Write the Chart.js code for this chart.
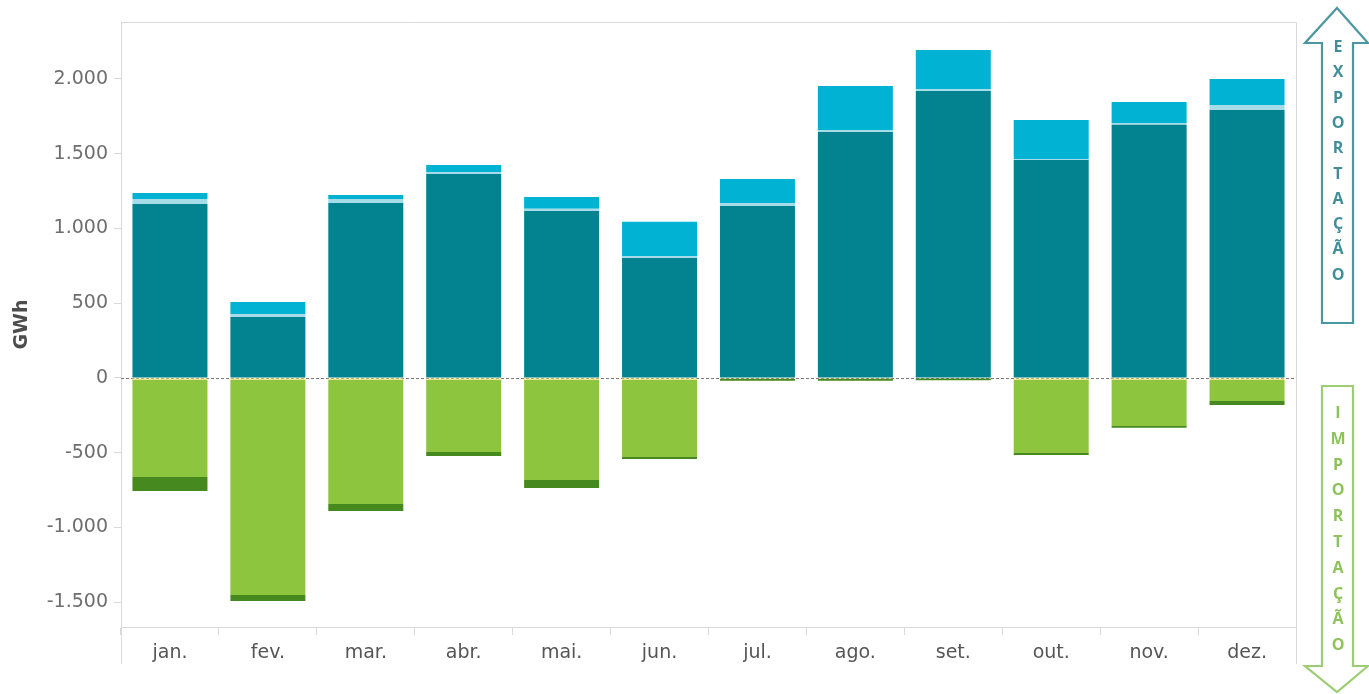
<!DOCTYPE html>
<html>
<head>
<meta charset="utf-8">
<script src="https://cdn.jsdelivr.net/npm/chart.js@4/dist/chart.umd.min.js"></script>
<style>
  html, body { margin: 0; padding: 0; background: #fff; }
  #wrap { position: relative; width: 1369px; height: 694px; }
  #wrap canvas { position: absolute; left: 0; top: 0; }
  #arrows { position: absolute; left: 0; top: 0; pointer-events: none; }
</style>
</head>
<body>
<div id="wrap">
  <canvas id="chart" width="1369" height="694"></canvas>
  <svg id="arrows" width="1369" height="694" xmlns="http://www.w3.org/2000/svg">
    <polygon points="1337,8 1368,43 1353,43 1353,323 1322,323 1322,43 1305,43"
             fill="#fff" stroke="#4a97a2" stroke-width="2.2" stroke-linejoin="miter"/>
    <polygon points="1322,386 1353,386 1353,666 1368,666 1337,692 1305,666 1322,666"
             fill="#fff" stroke="#9ccd72" stroke-width="2.2" stroke-linejoin="miter"/>
    <g id="expLetters" font-family="'Open Sans', sans-serif" font-weight="700" font-size="16" fill="#3f8e99" text-anchor="middle"></g>
    <g id="impLetters" font-family="'Open Sans', sans-serif" font-weight="700" font-size="16" fill="#8cc35a" text-anchor="middle"></g>
  </svg>
</div>
<script>
// Monthly balance, GWh: exports stack upward, imports stack downward
const months = ['jan.', 'fev.', 'mar.', 'abr.', 'mai.', 'jun.', 'jul.', 'ago.', 'set.', 'out.', 'nov.', 'dez.'];

const exportMain  = [1164, 408, 1171, 1365, 1117, 803, 1151, 1646, 1920, 1458, 1693, 1793];
const exportMid   = [33, 20, 26, 13, 14, 13, 20, 13, 13, 7, 13, 33];
const exportTop   = [40, 80, 27, 47, 80, 228, 160, 294, 261, 261, 140, 174];

const importThin  = [-12, -12, -12, -12, -12, -12, -6, -6, -3, -12, -12, -12];
const importMain  = [-650, -1440, -831, -483, -670, -516, 0, 0, 0, -490, -309, -142];
const importBase  = [-94, -40, -47, -27, -54, -14, -13, -13, -13, -13, -13, -27];

const yTicks = [-1500, -1000, -500, 0, 500, 1000, 1500, 2000];

const exportWord = ['E', 'X', 'P', 'O', 'R', 'T', 'A', 'Ç', 'Ã', 'O'];
const importWord = ['I', 'M', 'P', 'O', 'R', 'T', 'A', 'Ç', 'Ã', 'O'];

// Vertical lettering inside the two arrows
function placeLetters(groupId, letters, firstY, step) {
  const g = document.getElementById(groupId);
  letters.forEach((ch, i) => {
    const t = document.createElementNS('http://www.w3.org/2000/svg', 'text');
    t.setAttribute('x', 1338);
    t.setAttribute('y', firstY + i * step);
    t.setAttribute('dominant-baseline', 'central');
    t.textContent = ch;
    g.appendChild(t);
  });
}
placeLetters('expLetters', exportWord, 46, 25.3);
placeLetters('impLetters', importWord, 412, 25.8);

function fmt(v) {
  const s = String(Math.abs(v)).replace(/\B(?=(\d{3})+(?!\d))/g, '.');
  return (v < 0 ? '-' : '') + s;
}

const FONT = "'DejaVu Sans', sans-serif";
const GRID = '#d9d9d9';

// Frame around the plot, zero line, and the long separators below the x axis
const framePlugin = {
  id: 'frame',
  beforeDatasetsDraw(chart) {
    const { ctx, chartArea: a, scales: { y } } = chart;
    const y0 = Math.round(y.getPixelForValue(0)) + 0.5;
    ctx.save();
    ctx.strokeStyle = '#7a7a7a';
    ctx.lineWidth = 1.2;
    ctx.setLineDash([3, 2]);
    ctx.beginPath();
    ctx.moveTo(a.left, y0);
    ctx.lineTo(a.right, y0);
    ctx.stroke();
    ctx.restore();
  },
  afterDraw(chart) {
    const { ctx, chartArea: a } = chart;
    ctx.save();
    ctx.strokeStyle = GRID;
    ctx.lineWidth = 1;
    ctx.beginPath();
    ctx.moveTo(a.left + 0.5, a.top + 0.5);
    ctx.lineTo(a.right + 0.5, a.top + 0.5);
    ctx.lineTo(a.right + 0.5, 664);
    ctx.moveTo(a.left + 0.5, a.bottom);
    ctx.lineTo(a.left + 0.5, 664);
    ctx.stroke();
    ctx.restore();
  }
};

function bar(label, data, color) {
  return {
    label, data,
    backgroundColor: color,
    borderWidth: 0,
    stack: 'balance',
    categoryPercentage: 1,
    barPercentage: 0.766
  };
}

new Chart(document.getElementById('chart'), {
  type: 'bar',
  data: {
    labels: months,
    datasets: [
      bar('Exportação 1', exportMain, '#02838f'),
      bar('Exportação 2', exportMid, '#a6dbe8'),
      bar('Exportação 3', exportTop, '#02b2d3'),
      bar('Importação 1', importThin, '#f3df7c'),
      bar('Importação 2', importMain, '#8dc53f'),
      bar('Importação 3', importBase, '#46891e')
    ]
  },
  options: {
    responsive: false,
    animation: false,
    layout: { padding: { top: 22, right: 73, bottom: 0, left: 0 } },
    plugins: { legend: { display: false }, tooltip: { enabled: false } },
    scales: {
      x: {
        stacked: true,
        offset: true,
        border: { display: true, color: GRID, width: 1 },
        grid: { offset: true, drawOnChartArea: false, drawTicks: true, tickLength: 8, color: GRID },
        ticks: { color: '#555', font: { family: FONT, size: 19 }, padding: 7, maxRotation: 0 },
        afterFit(scale) { scale.height = 67; }
      },
      y: {
        stacked: true,
        min: -1666,
        max: 2381,
        border: { display: true, color: GRID, width: 1 },
        grid: { drawOnChartArea: false, drawTicks: true, tickLength: 7, color: GRID },
        afterBuildTicks(scale) { scale.ticks = yTicks.map(v => ({ value: v })); },
        ticks: {
          color: '#6e6e6e',
          font: { family: FONT, size: 19 },
          padding: 6,
          callback: v => fmt(v)
        },
        title: {
          display: true,
          text: 'GWh',
          color: '#4d4d4d',
          font: { family: FONT, size: 19, weight: 'bold' },
          padding: { top: 11, bottom: 0 }
        },
        afterFit(scale) { scale.width = 121; }
      }
    }
  },
  plugins: [framePlugin]
});
</script>
</body>
</html>
